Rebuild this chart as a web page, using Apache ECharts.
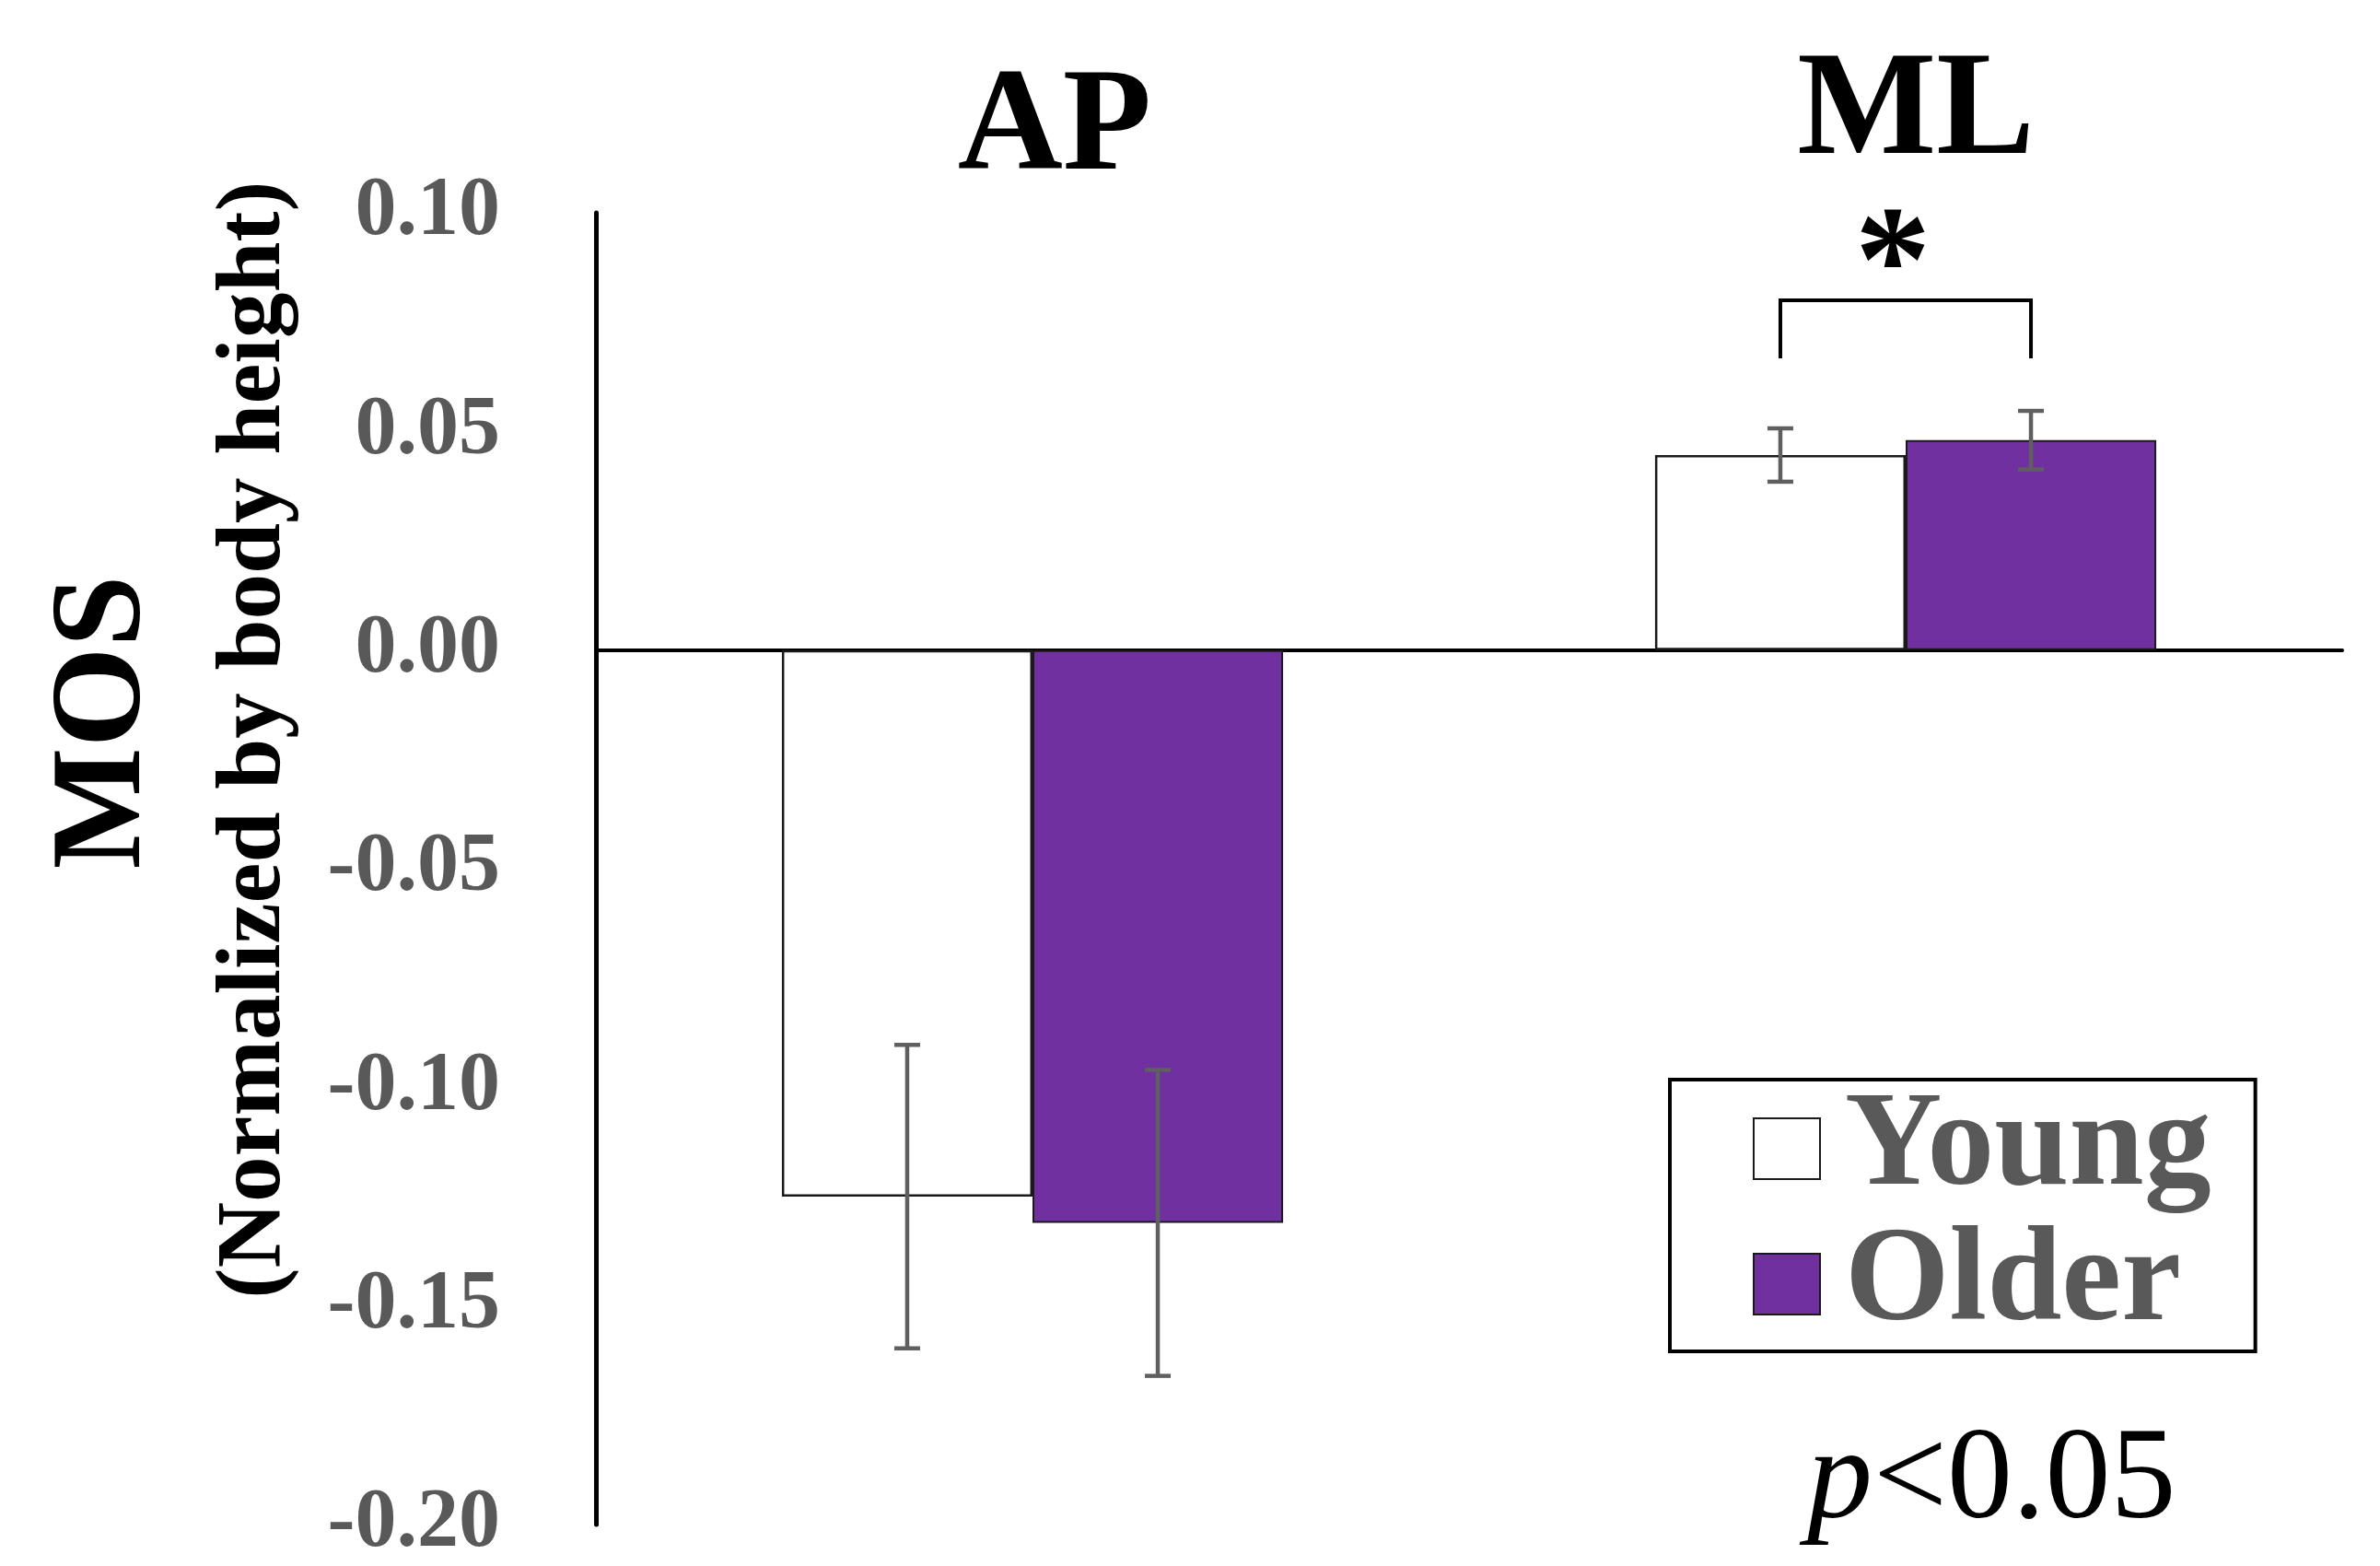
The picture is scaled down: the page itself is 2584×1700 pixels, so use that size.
<!DOCTYPE html>
<html>
<head>
<meta charset="utf-8">
<script src="https://cdn.jsdelivr.net/npm/echarts@6/dist/echarts.min.js"></script>
<style>
  html, body { margin: 0; padding: 0; background: #fff; }
  #chart { width: 2584px; height: 1700px; }
</style>
</head>
<body>
<div id="chart"></div>
<script>
// data
const categories = ['AP', 'ML'];
const seriesNames = ['Young', 'Older'];
const youngMean = [-0.125, 0.0446];
const olderMean = [-0.131, 0.048];
const youngErr = [0.0347, 0.0061];
const olderErr = [0.035, 0.0067];
const yMin = -0.2, yMax = 0.1, yStep = 0.05;
// significance bracket on ML: [category, bracket top, leg end]
const sigBracket = [[1, 0.0800, 0.0667]];

const SERIF = "Liberation Serif";
const PURPLE = '#7030A0';
const GREY = '#595959';
const BAR_W = 0.287;

function errRender(side) {
  return function (params, api) {
    const i = api.value(0), m = api.value(1), e = api.value(2);
    const band = api.size([1, 0])[0];
    const dx = side * band * BAR_W / 2;
    const hi = api.coord([i, m + e]);
    const lo = api.coord([i, m - e]);
    const x = hi[0] + dx;
    const cap = 14;
    const st = { stroke: '#5f5f5f', lineWidth: 4.5 };
    return {
      type: 'group',
      children: [
        { type: 'line', shape: { x1: x, y1: hi[1], x2: x, y2: lo[1] }, style: st },
        { type: 'line', shape: { x1: x - cap, y1: hi[1], x2: x + cap, y2: hi[1] }, style: st },
        { type: 'line', shape: { x1: x - cap, y1: lo[1], x2: x + cap, y2: lo[1] }, style: st }
      ]
    };
  };
}

function bracketRender(params, api) {
  const i = api.value(0);
  const top = api.coord([i, api.value(1)]);
  const leg = api.coord([i, api.value(2)]);
  const half = api.size([1, 0])[0] * BAR_W / 2;
  const xl = top[0] - half, xr = top[0] + half;
  return {
    type: 'group',
    children: [
      {
        type: 'polyline',
        shape: { points: [[xl, leg[1]], [xl, top[1]], [xr, top[1]], [xr, leg[1]]] },
        style: { stroke: '#000', lineWidth: 4, fill: null }
      },
      {
        type: 'text', x: top[0] - 14, y: top[1] - 32,
        style: { text: '*', font: 'bold 165px ' + SERIF, fill: '#000', align: 'center', verticalAlign: 'middle' }
      }
    ]
  };
}

const chart = echarts.init(document.getElementById('chart'));
chart.setOption({
  backgroundColor: '#fff',
  animation: false,
  grid: { left: 647, right: 41, top: 231, bottom: 43 },
  xAxis: {
    type: 'category',
    data: categories,
    axisLine: { show: true, onZero: true, lineStyle: { color: '#000', width: 4 } },
    axisTick: { show: false },
    axisLabel: { show: false }
  },
  yAxis: {
    type: 'value',
    min: yMin, max: yMax, interval: yStep,
    axisLine: { show: true, lineStyle: { color: '#000', width: 5 } },
    axisTick: { show: false },
    splitLine: { show: false },
    axisLabel: {
      margin: 104,
      color: GREY,
      fontFamily: SERIF,
      fontWeight: 'bold',
      fontSize: 90,
      formatter: v => (Math.abs(v) < 1e-9 ? 0 : v).toFixed(2)
    }
  },
  legend: {
    data: seriesNames,
    orient: 'vertical',
    left: 1813, top: 1172,
    icon: 'rect',
    itemWidth: 72, itemHeight: 66, itemGap: 1,
    padding: [2, 48, 0, 90],
    borderColor: '#000', borderWidth: 4,
    textStyle: {
      fontFamily: SERIF, fontWeight: 'bold', fontSize: 146, lineHeight: 140,
      color: GREY, padding: [0, 0, 0, 22]
    }
  },
  series: [
    {
      name: seriesNames[0], type: 'bar', data: youngMean,
      barWidth: (BAR_W * 100) + '%', barGap: '0%',
      itemStyle: { color: '#fff', borderColor: '#1a1a1a', borderWidth: 2.5 }
    },
    {
      name: seriesNames[1], type: 'bar', data: olderMean,
      barWidth: (BAR_W * 100) + '%', barGap: '0%',
      itemStyle: { color: PURPLE, borderColor: '#1a1a1a', borderWidth: 2 }
    },
    {
      name: 'youngErr', type: 'custom', z: 5,
      renderItem: errRender(-1),
      data: youngMean.map((m, i) => [i, m, youngErr[i]])
    },
    {
      name: 'olderErr', type: 'custom', z: 5,
      renderItem: errRender(1),
      data: olderMean.map((m, i) => [i, m, olderErr[i]])
    },
    {
      name: 'sig', type: 'custom', z: 5,
      renderItem: bracketRender,
      data: sigBracket
    }
  ],
  graphic: [
    { type: 'text', x: 1145, y: 142, style: { text: 'AP', font: 'bold 158px ' + SERIF, fill: '#000', align: 'center', verticalAlign: 'middle' } },
    { type: 'text', x: 2080, y: 125, style: { text: 'ML', font: 'bold 160px ' + SERIF, fill: '#000', align: 'center', verticalAlign: 'middle' } },
    { type: 'text', x: 115, y: 784, rotation: Math.PI / 2, style: { text: 'MOS', font: 'bold 140px ' + SERIF, fill: '#000', align: 'center', verticalAlign: 'middle' } },
    { type: 'text', x: 277, y: 803, rotation: Math.PI / 2, style: { text: '(Normalized by body height)', font: 'bold 99px ' + SERIF, fill: '#000', align: 'center', verticalAlign: 'middle' } },
    { type: 'text', x: 1962, y: 1610, style: { text: 'p', font: 'italic 142px ' + SERIF, fill: '#000', align: 'left', verticalAlign: 'middle' } },
    { type: 'text', x: 2034, y: 1610, style: { text: '<0.05', font: '142px ' + SERIF, fill: '#000', align: 'left', verticalAlign: 'middle' } }
  ]
});
</script>
</body>
</html>
